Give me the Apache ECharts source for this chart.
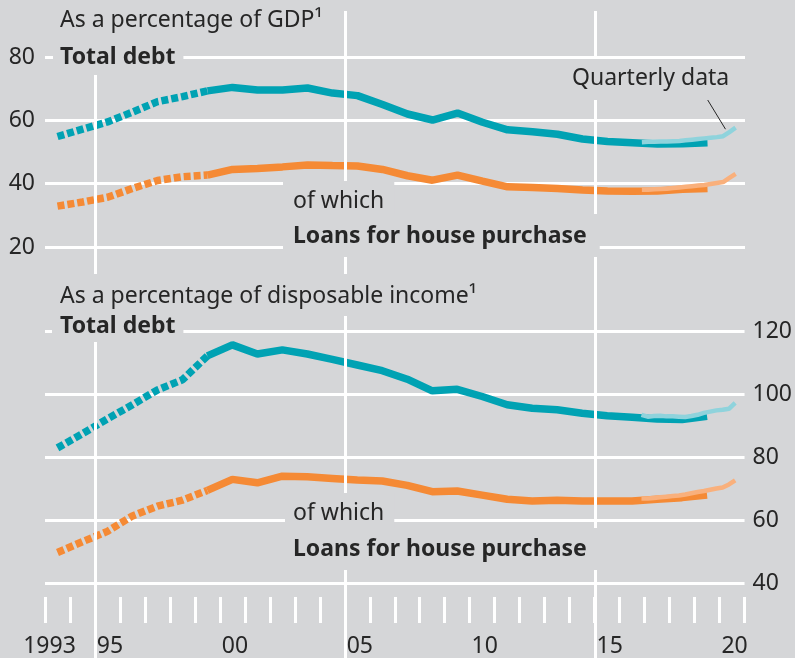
<!DOCTYPE html>
<html>
<head>
<meta charset="utf-8">
<script src="https://cdn.jsdelivr.net/npm/echarts@6/dist/echarts.min.js"></script>
<style>
  html, body { margin: 0; padding: 0; background: #d5d6d8; }
  #main { width: 795px; height: 658px; }
</style>
</head>
<body>
<div id="main"></div>
<script>
// household debt, annual data 1993-2019 (plotted mid-year) + quarterly tail
var annualYears = [1993, 1994, 1995, 1996, 1997, 1998, 1999, 2000, 2001, 2002, 2003, 2004, 2005,
  2006, 2007, 2008, 2009, 2010, 2011, 2012, 2013, 2014, 2015, 2016, 2017, 2018, 2019];

// as a percentage of GDP
var gdpTotal = [54.9, 57.2, 59.5, 62.6, 65.9, 67.5, 69.3, 70.4, 69.6, 69.6, 70.2, 68.6, 67.8,
  65.0, 62.0, 60.1, 62.3, 59.4, 57.0, 56.4, 55.6, 54.1, 53.3, 52.9, 52.5, 52.6, 52.9];
var gdpHouse = [32.9, 34.2, 35.7, 38.5, 41.0, 42.2, 42.7, 44.5, 44.8, 45.3, 45.9, 45.7, 45.6,
  44.5, 42.5, 41.1, 42.7, 40.8, 39.0, 38.8, 38.5, 38.0, 37.7, 37.6, 37.7, 38.2, 38.5];

// as a percentage of disposable income
var incTotal = [82.9, 87.4, 92.1, 96.6, 101.3, 104.5, 112.1, 115.6, 112.7, 114.0, 112.7, 111.0, 109.2,
  107.4, 104.7, 101.0, 101.5, 99.2, 96.6, 95.5, 95.0, 93.9, 93.1, 92.6, 92.1, 91.9, 92.9];
var incHouse = [49.7, 53.1, 56.4, 61.3, 64.4, 66.3, 69.4, 72.9, 71.8, 73.9, 73.7, 73.2, 72.7,
  72.4, 71.0, 69.0, 69.2, 67.9, 66.6, 66.0, 66.3, 66.0, 66.0, 66.0, 66.6, 67.1, 67.9];

// quarterly data
var quarters = ['2016Q4', '2017Q1', '2017Q2', '2017Q3', '2017Q4', '2018Q1', '2018Q2', '2018Q3',
  '2018Q4', '2019Q1', '2019Q2', '2019Q3', '2019Q4', '2020Q1', '2020Q2', '2020Q3'];
var gdpTotalQ = [53.1, 53.2, 53.2, 53.3, 53.3, 53.4, 53.5, 53.7, 53.9, 54.1, 54.3, 54.5, 54.7, 55.0, 56.3, 57.7];
var gdpHouseQ = [38.1, 38.1, 38.2, 38.3, 38.4, 38.6, 38.8, 39.0, 39.2, 39.4, 39.6, 39.9, 40.2, 40.5, 41.8, 43.1];
var incTotalQ = [93.4, 92.8, 93.0, 93.1, 92.9, 92.9, 92.8, 92.7, 93.0, 93.4, 94.0, 94.4, 94.8, 95.0, 95.3, 97.2];
var incHouseQ = [66.8, 66.8, 67.0, 67.2, 67.4, 67.6, 67.8, 68.1, 68.5, 68.9, 69.2, 69.6, 70.0, 70.3, 71.3, 72.6];

// axis labels
var tickYears = [1993, 1995, 2000, 2005, 2010, 2015, 2020];
var tickText = ['1993', '95', '00', '05', '10', '15', '20'];
var gridYears = [1995, 2005, 2015];
var lastEstimate = 6; // index of 1999: dotted up to here

var BG = '#d5d6d8', INK = '#262626';
var TEAL = '#00a2b3', ORANGE = '#f58a35', TEAL_Q = '#8fd3dc', ORANGE_Q = '#f9b07c';
var FONT = '"Noto Sans", sans-serif';
var FS = 23;

var myChart = echarts.init(document.getElementById('main'));

function annual(vals, from, to) {
  return annualYears.slice(from, to).map(function (y, i) {
    return [y + 0.5, vals[from + i]];
  });
}

function quarterly(vals) {
  return quarters.map(function (q, i) {
    var y = +q.slice(0, 4), n = +q.slice(5);
    return [y + (n - 0.5) / 4, vals[i]];
  });
}

function line(data, grid, color, width, dashed, z) {
  return {
    type: 'line',
    xAxisIndex: grid,
    yAxisIndex: grid,
    data: data,
    symbol: 'none',
    silent: true,
    z: z,
    lineStyle: {color: color, width: width, type: dashed ? [7, 3] : 'solid', cap: 'butt'}
  };
}

function panelSeries(total, house, totalQ, houseQ, grid) {
  return [
    line(annual(total, 0, lastEstimate + 1), grid, TEAL, 7.5, true, 3),
    line(annual(total, lastEstimate), grid, TEAL, 7.5, false, 3),
    line(annual(house, 0, lastEstimate + 1), grid, ORANGE, 7.5, true, 3),
    line(annual(house, lastEstimate), grid, ORANGE, 7.5, false, 3),
    line(quarterly(totalQ), grid, TEAL_Q, 4.5, false, 4),
    line(quarterly(houseQ), grid, ORANGE_Q, 4.5, false, 4)
  ];
}

var series = panelSeries(gdpTotal, gdpHouse, gdpTotalQ, gdpHouseQ, 0)
  .concat(panelSeries(incTotal, incHouse, incTotalQ, incHouseQ, 1));

// pointer from "Quarterly data" to the quarterly line
series[4].markLine = {
  silent: true, symbol: 'none', animation: false,
  label: {show: false},
  lineStyle: {color: INK, width: 1, type: 'solid'},
  data: [[{coord: [2019.44, 67.3]}, {coord: [2020.22, 57.2]}]]
};

// vertical white lines through both panels
series.push({
  type: 'line',
  xAxisIndex: 2,
  yAxisIndex: 2,
  data: [],
  silent: true,
  z: 1,
  markLine: {
    silent: true, symbol: 'none', animation: false,
    label: {show: false},
    lineStyle: {color: '#fff', width: 3, type: 'solid'},
    data: gridYears.map(function (y) { return {xAxis: y}; })
  }
});

function hiddenX(grid) {
  return {type: 'value', gridIndex: grid, min: 1993, max: 2021, show: false};
}

function valueY(grid, pos, min, max, margin) {
  return {
    type: 'value', gridIndex: grid, position: pos, min: min, max: max, interval: 20,
    axisLine: {show: false}, axisTick: {show: false},
    axisLabel: {margin: margin, color: INK, fontSize: FS, fontFamily: FONT},
    splitLine: {lineStyle: {color: '#fff', width: 3}}
  };
}

function note(text, x, y, padding, bold) {
  return {
    type: 'text', x: x, y: y, z: 10, silent: true,
    style: {
      text: text,
      font: (bold ? 'bold ' : '') + FS + 'px ' + FONT,
      fill: INK,
      backgroundColor: BG,
      padding: padding
    }
  };
}

var option = {
  backgroundColor: BG,
  animation: false,
  grid: [
    {left: 45, right: 50, top: 57, height: 190},
    {left: 45, right: 50, top: 331, height: 253},
    {left: 45, right: 50, top: 11, bottom: 0}
  ],
  xAxis: [
    hiddenX(0),
    {
      type: 'value', gridIndex: 1, min: 1993, max: 2021, interval: 1, offset: 14,
      axisLine: {show: false},
      axisTick: {length: 26, lineStyle: {color: '#fff', width: 3}},
      splitLine: {show: false},
      axisLabel: {
        margin: 38, color: INK, fontSize: FS, fontFamily: FONT,
        formatter: function (v) {
          var i = tickYears.indexOf(Math.round(v));
          if (i < 0) return '';
          return (i === 0 ? '{first|' : '{mid|') + tickText[i] + '}';
        },
        rich: {
          first: {fontSize: FS, fontFamily: FONT, color: INK, padding: [0, 0, 0, 9]},
          mid: {fontSize: FS, fontFamily: FONT, color: INK, padding: [0, 0, 0, 30]}
        }
      }
    },
    hiddenX(2)
  ],
  yAxis: [
    valueY(0, 'left', 20, 80, 10),
    valueY(1, 'right', 40, 120, 8),
    {type: 'value', gridIndex: 2, min: 0, max: 1, show: false}
  ],
  graphic: [
    note('As a percentage of GDP¹', 53, 4, [5, 7, 8, 7]),
    note('Total debt', 53, 40, [6, 8, 6, 7], true),
    note('Quarterly data', 566, 59, [8, 6, 10, 6]),
    note('of which', 283, 181, [9, 10, 3, 10]),
    note('Loans for house purchase', 283, 214, [11, 13, 9, 10], true),
    note('As a percentage of disposable income¹', 53, 274, [11, 7, 8, 7]),
    note('Total debt', 52, 314, [1, 8, 4, 8], true),
    note('of which', 285, 493, [9, 10, 3, 8]),
    note('Loans for house purchase', 285, 528, [10, 13, 9, 8], true)
  ],
  series: series
};

myChart.setOption(option);
</script>
</body>
</html>
